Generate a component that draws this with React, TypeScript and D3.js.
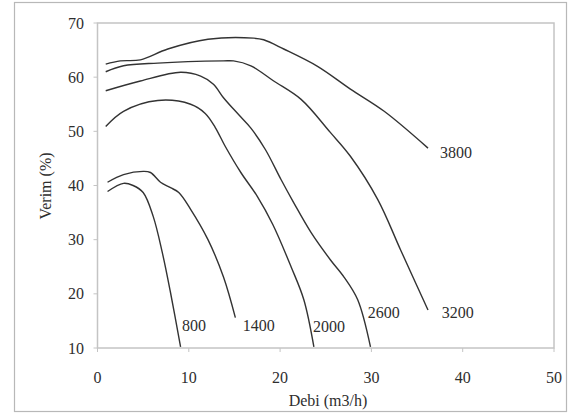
import React from "react";
import * as d3 from "d3";

const xTicks = [0, 10, 20, 30, 40, 50];
const yTicks = [10, 20, 30, 40, 50, 60, 70];

const s800x = [1.1, 2.85, 3.9, 5.0, 6.1, 7.1, 8.0, 9.1];
const s800y = [38.9, 40.4, 40.0, 38.7, 34.3, 27.6, 20.2, 10.2];

const s1400x = [1.1, 2.85, 5.0, 5.8, 6.9, 8.0, 8.9, 10.2, 12.1, 13.8, 15.1];
const s1400y = [40.6, 42.0, 42.6, 42.4, 40.6, 39.6, 38.7, 35.6, 30.0, 23.1, 15.6];

const s2000x = [0.9, 2.85, 6.6, 10.2, 11.8, 12.9, 14.0, 15.7, 17.5, 19.2, 21.2, 22.6, 23.7];
const s2000y = [50.9, 53.7, 55.7, 55.0, 53.3, 50.7, 47.2, 42.4, 38.0, 32.8, 25.0, 18.9, 10.2];

const s2600x = [0.9, 4.7, 9.1, 11.3, 12.7, 13.8, 15.5, 16.8, 18.4, 20.1, 21.5, 23.4, 25.5, 27.0, 28.5, 29.9];
const s2600y = [57.5, 59.3, 60.9, 60.2, 58.7, 56.2, 53.0, 50.6, 46.6, 41.1, 36.8, 31.3, 26.3, 23.1, 18.9, 10.2];

const s3200x = [0.9, 2.85, 6.6, 13.8, 14.9, 16.8, 19.3, 22.3, 25.5, 27.7, 30.7, 33.2, 36.2];
const s3200y = [61.0, 62.1, 62.6, 63.0, 63.0, 62.1, 59.3, 55.9, 49.8, 45.4, 37.4, 28.1, 17.0];

const s3800x = [0.9, 2.5, 4.7, 7.7, 12.1, 17.1, 18.2, 20.4, 24.1, 27.7, 31.4, 36.2];
const s3800y = [62.4, 63.0, 63.2, 65.2, 67.0, 67.2, 66.9, 65.2, 62.0, 57.8, 53.7, 46.9];

const seriesNames = ["800", "1400", "2000", "2600", "3200", "3800"];
const seriesX = [s800x, s1400x, s2000x, s2600x, s3200x, s3800x];
const seriesY = [s800y, s1400y, s2000y, s2600y, s3200y, s3800y];
// label anchor positions in data units
const labelX = [9.25, 15.9, 23.6, 29.6, 37.7, 37.5];
const labelY = [14.2, 14.2, 13.9, 16.5, 16.5, 46.2];

const W = 573;
const H = 414;
const left = 97.5;
const right = 554;
const top = 23;
const bottom = 348;

export default function App() {
  const x = d3.scaleLinear().domain([0, 50]).range([left, right]);
  const y = d3.scaleLinear().domain([10, 70]).range([bottom, top]);
  const line = d3
    .line<[number, number]>()
    .x((d) => x(d[0]))
    .y((d) => y(d[1]))
    .curve(d3.curveCatmullRom.alpha(0.5));
  const font = "'Liberation Serif', 'Times New Roman', serif";
  const txt = "#2e2e2e";
  return (
    <svg
      width={W}
      height={H}
      style={{ position: "absolute", left: 0, top: 0, background: "#fff" }}
      fontFamily={font}
    >
      <rect x={14.5} y={2.5} width={552} height={409} fill="#fff" stroke="#b8b8b8" strokeWidth={1.2} />
      <rect
        x={x(0)}
        y={y(70)}
        width={x(50) - x(0)}
        height={y(10) - y(70)}
        fill="none"
        stroke="#c4c4c4"
        strokeWidth={1.5}
      />
      {yTicks.map((t) => (
        <g key={"y" + t}>
          <line x1={x(0) - 4} x2={x(0)} y1={y(t)} y2={y(t)} stroke="#c4c4c4" />
          <text x={84} y={y(t)} dy="0.35em" textAnchor="end" fontSize={16} fill={txt}>
            {t}
          </text>
        </g>
      ))}
      {xTicks.map((t) => (
        <g key={"x" + t}>
          <line x1={x(t)} x2={x(t)} y1={y(10)} y2={y(10) + 4} stroke="#c4c4c4" />
          <text x={x(t)} y={377} dy="0.35em" textAnchor="middle" fontSize={16} fill={txt}>
            {t}
          </text>
        </g>
      ))}
      <text
        transform={`translate(45,186) rotate(-90)`}
        textAnchor="middle"
        dy="0.35em"
        fontSize={16}
        fill={txt}
      >
        Verim (%)
      </text>
      <text x={328} y={400} dy="0.35em" textAnchor="middle" fontSize={16} fill={txt}>
        Debi (m3/h)
      </text>
      {seriesNames.map((n, i) => {
        const pts = seriesX[i].map((v, j) => [v, seriesY[i][j]] as [number, number]);
        return (
          <g key={n}>
            <path d={line(pts) || ""} fill="none" stroke="#333" strokeWidth={1.4} />
            <text x={x(labelX[i])} y={y(labelY[i])} dy="0.35em" fontSize={16} fill={txt}>
              {n}
            </text>
          </g>
        );
      })}
    </svg>
  );
}
